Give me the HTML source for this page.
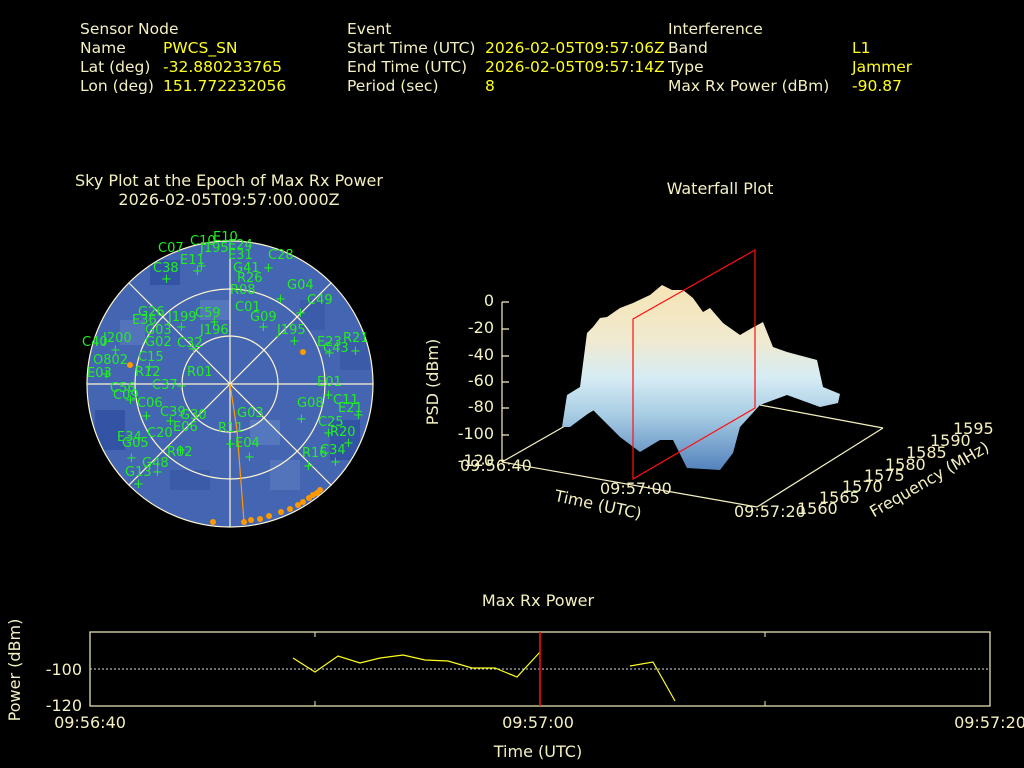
<!DOCTYPE html>
<html><head><meta charset="utf-8"><style>
body{margin:0;background:#000;width:1024px;height:768px;overflow:hidden}
svg{display:block}
text{font-family:"DejaVu Sans","Liberation Sans",sans-serif}
.h{fill:#f5f0c0;font-size:15.5px}
.y{fill:#ffff20;font-size:15.5px}
.g{fill:#22ee22;font-size:13px}
.t{fill:#f5f0c0;font-size:16px}
</style></head><body>
<svg width="1024" height="768" viewBox="0 0 1024 768">
<defs>
<linearGradient id="sg" x1="0" y1="285" x2="0" y2="470" gradientUnits="userSpaceOnUse">
<stop offset="0" stop-color="#f6e4b4"/><stop offset="0.3" stop-color="#f0ead0"/>
<stop offset="0.5" stop-color="#d6ecf4"/><stop offset="0.7" stop-color="#a8cde4"/>
<stop offset="1" stop-color="#5482bc"/></linearGradient>
<clipPath id="cc"><circle cx="230" cy="384" r="143"/></clipPath>
</defs>
<!-- header -->
<text class="h" x="80" y="34">Sensor Node</text>
<text class="h" x="80" y="53">Name</text><text class="y" x="163" y="53">PWCS_SN</text>
<text class="h" x="80" y="72">Lat (deg)</text><text class="y" x="163" y="72">-32.880233765</text>
<text class="h" x="80" y="91">Lon (deg)</text><text class="y" x="163" y="91">151.772232056</text>
<text class="h" x="347" y="34">Event</text>
<text class="h" x="347" y="53">Start Time (UTC)</text><text class="y" x="485" y="53">2026-02-05T09:57:06Z</text>
<text class="h" x="347" y="72">End Time (UTC)</text><text class="y" x="485" y="72">2026-02-05T09:57:14Z</text>
<text class="h" x="347" y="91">Period (sec)</text><text class="y" x="485" y="91">8</text>
<text class="h" x="668" y="34">Interference</text>
<text class="h" x="668" y="53">Band</text><text class="y" x="852" y="53">L1</text>
<text class="h" x="668" y="72">Type</text><text class="y" x="852" y="72">Jammer</text>
<text class="h" x="668" y="91">Max Rx Power (dBm)</text><text class="y" x="852" y="91">-90.87</text>
<!-- sky plot -->
<text class="t" x="229" y="186" text-anchor="middle">Sky Plot at the Epoch of Max Rx Power</text>
<text class="t" x="229" y="205" text-anchor="middle">2026-02-05T09:57:00.000Z</text>
<circle cx="230" cy="384" r="143" fill="#4466b2"/>
<g clip-path="url(#cc)" opacity="0.8">
<rect x="150" y="260" width="30" height="25" fill="#3050a0"/><rect x="300" y="300" width="25" height="30" fill="#3a5aa8"/>
<rect x="95" y="410" width="30" height="40" fill="#3050a0"/><rect x="250" y="420" width="30" height="25" fill="#5a7cc0"/>
<rect x="170" y="470" width="40" height="20" fill="#3a58a6"/><rect x="330" y="420" width="30" height="40" fill="#3050a0"/>
<rect x="200" y="300" width="30" height="20" fill="#5a7cc0"/><rect x="120" y="320" width="25" height="25" fill="#5878bd"/>
<rect x="270" y="460" width="30" height="30" fill="#5878bd"/><rect x="340" y="340" width="30" height="30" fill="#3a58a6"/>
</g>
<g fill="none" stroke="#fff6d0" stroke-width="1.2">
<circle cx="230" cy="384" r="143"/><circle cx="230" cy="384" r="95"/><circle cx="230" cy="384" r="48"/>
<line x1="87" y1="384" x2="373" y2="384"/><line x1="230" y1="241" x2="230" y2="527"/>
<line x1="129" y1="283" x2="331" y2="485"/><line x1="331" y1="283" x2="129" y2="485"/>
</g>
<polyline points="230,384 237,430 244,522" fill="none" stroke="#ff9900" stroke-width="1.2"/>
<g fill="#ff9900">
<circle cx="130" cy="365" r="3"/><circle cx="303" cy="352" r="3"/><circle cx="213" cy="522" r="3"/><circle cx="244" cy="522" r="3"/><circle cx="251" cy="520" r="3"/><circle cx="260" cy="519" r="3"/><circle cx="269" cy="516" r="3"/><circle cx="281" cy="512" r="3"/><circle cx="290" cy="509" r="3"/><circle cx="298" cy="505" r="3"/><circle cx="303" cy="502" r="3"/><circle cx="309" cy="498" r="3"/><circle cx="313" cy="495" r="3"/><circle cx="317" cy="493" r="3"/><circle cx="320" cy="490" r="3"/>
</g>
<g class="g">
<text x="158" y="252">C07</text><text x="213" y="241">E10</text><text x="190" y="245">C10</text><text x="200" y="252">J195</text><text x="228" y="249">E24</text><text x="228" y="259">E31</text><text x="268" y="259">C28</text><text x="180" y="264">E11</text><text x="153" y="272">C38</text><text x="233" y="272">G41</text><text x="237" y="282">R26</text><text x="287" y="289">G04</text><text x="230" y="294">R08</text><text x="307" y="304">C49</text><text x="235" y="311">C01</text><text x="250" y="321">G09</text><text x="138" y="316">G26</text><text x="168" y="321">J199</text><text x="195" y="317">C59</text><text x="132" y="324">E36</text><text x="277" y="334">J195</text><text x="200" y="334">J196</text><text x="145" y="334">G03</text><text x="317" y="346">E23</text><text x="343" y="342">R21</text><text x="323" y="352">C43</text><text x="82" y="346">C40</text><text x="103" y="342">J200</text><text x="145" y="346">G02</text><text x="177" y="347">C32</text><text x="93" y="364">O802</text><text x="138" y="361">C15</text><text x="135" y="376">R12</text><text x="187" y="376">R01</text><text x="87" y="377">E03</text><text x="317" y="386">E01</text><text x="110" y="392">C56</text><text x="152" y="389">C37</text><text x="113" y="399">C09</text><text x="333" y="404">C11</text><text x="297" y="407">G08</text><text x="137" y="407">C06</text><text x="338" y="412">E21</text><text x="160" y="416">C39</text><text x="237" y="417">G03</text><text x="180" y="419">G30</text><text x="318" y="426">C25</text><text x="173" y="431">E06</text><text x="218" y="432">R11</text><text x="330" y="436">R20</text><text x="147" y="437">C20</text><text x="117" y="441">E34</text><text x="122" y="447">G05</text><text x="235" y="447">E04</text><text x="167" y="456">R02</text><text x="320" y="454">C34</text><text x="302" y="457">R16</text><text x="142" y="467">G48</text><text x="125" y="476">G13</text>
</g>
<g class="g" font-size="13">
<text x="196" y="270">+</text><text x="263" y="272">+</text><text x="161" y="283">+</text><text x="192" y="275">+</text><text x="275" y="303">+</text><text x="295" y="317">+</text><text x="258" y="331">+</text><text x="176" y="331">+</text><text x="209" y="326">+</text><text x="289" y="345">+</text><text x="324" y="357">+</text><text x="350" y="355">+</text><text x="110" y="354">+</text><text x="188" y="353">+</text><text x="101" y="378">+</text><text x="144" y="371">+</text><text x="176" y="390">+</text><text x="125" y="404">+</text><text x="323" y="399">+</text><text x="353" y="419">+</text><text x="296" y="423">+</text><text x="141" y="420">+</text><text x="165" y="425">+</text><text x="225" y="448">+</text><text x="244" y="461">+</text><text x="323" y="437">+</text><text x="343" y="447">+</text><text x="126" y="462">+</text><text x="152" y="476">+</text><text x="175" y="454">+</text><text x="303" y="470">+</text><text x="330" y="466">+</text><text x="133" y="488">+</text>
</g>
<!-- waterfall -->
<text class="t" x="720" y="194" text-anchor="middle">Waterfall Plot</text>
<g stroke="#f5f0c0" stroke-width="1.2" fill="none">
<line x1="502" y1="302" x2="502" y2="462"/>
<line x1="502" y1="462" x2="757" y2="507"/>
<line x1="757" y1="507" x2="883" y2="428"/>
<line x1="883" y1="428" x2="760" y2="405"/>
<line x1="502" y1="462" x2="593" y2="410"/>
<path d="M502 302h7M502 329h7M502 356h7M502 382h7M502 408h7M502 435h7"/>
</g>
<polygon fill="url(#sg)" points="562,427 567,395 580,387 587,333 593,327 600,318 607,317 620,308 633,303 650,295 662,285 672,290 683,290 693,298 703,312 710,308 723,323 740,335 752,328 763,322 773,347 787,352 817,360 823,387 840,394 838,403 820,407 787,395 760,405 740,427 733,453 720,470 687,468 673,440 660,440 640,452 620,437 593,410 570,427"/>
<polygon points="633,479 633,319 755,250 755,408" fill="none" stroke="#ff1010" stroke-width="1.2"/>
<g class="t" text-anchor="end">
<text x="494" y="306">0</text><text x="494" y="333">-20</text><text x="494" y="360">-40</text><text x="494" y="386">-60</text><text x="494" y="412">-80</text><text x="494" y="439">-100</text><text x="494" y="466">-120</text>
</g>
<text class="t" transform="translate(438,382) rotate(-90)" text-anchor="middle">PSD (dBm)</text>
<g class="t">
<text x="460" y="471">09:56:40</text><text x="600" y="494">09:57:00</text><text x="734" y="517">09:57:20</text>
<text x="953" y="434">1595</text><text x="930" y="446">1590</text><text x="906" y="458">1585</text><text x="885" y="470">1580</text><text x="864" y="481">1575</text><text x="842" y="492">1570</text><text x="819" y="503">1565</text><text x="797" y="514">1560</text>
</g>
<text class="t" transform="translate(597,510) rotate(12)" text-anchor="middle">Time (UTC)</text>
<text class="t" transform="translate(932,484) rotate(-30)" text-anchor="middle">Frequency (MHz)</text>
<!-- max rx -->
<text class="t" x="538" y="606" text-anchor="middle">Max Rx Power</text>
<rect x="90" y="632" width="900" height="74" fill="none" stroke="#f5f0c0" stroke-width="1.2"/>
<line x1="90" y1="669" x2="990" y2="669" stroke="#ddd" stroke-dasharray="2,2"/>
<path d="M315 632v5M315 706v-5M765 632v5M765 706v-5" stroke="#f5f0c0"/>
<polyline points="293,658 315,672 338,656 360,663 380,658 403,655 425,660 448,661 472,668 495,668 517,677 540,652" fill="none" stroke="#ffff20" stroke-width="1.2"/>
<polyline points="630,666 653,662 675,701" fill="none" stroke="#ffff20" stroke-width="1.2"/>
<line x1="540" y1="632" x2="540" y2="706" stroke="#ff1010" stroke-width="1.5"/>
<text class="t" x="82" y="675" text-anchor="end">-100</text><text class="t" x="82" y="711" text-anchor="end">-120</text>
<text class="t" transform="translate(20,670) rotate(-90)" text-anchor="middle">Power (dBm)</text>
<text class="t" x="90" y="728" text-anchor="middle">09:56:40</text><text class="t" x="538" y="728" text-anchor="middle">09:57:00</text><text class="t" x="990" y="728" text-anchor="middle">09:57:20</text>
<text class="t" x="538" y="757" text-anchor="middle">Time (UTC)</text>
</svg>
</body></html>
